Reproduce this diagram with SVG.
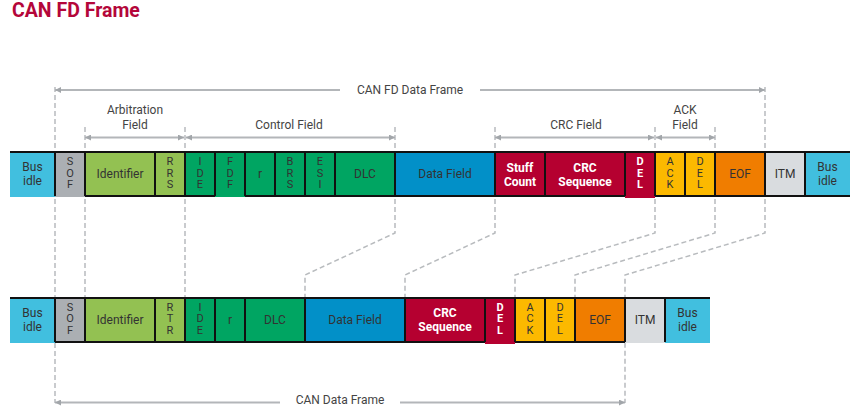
<svg xmlns="http://www.w3.org/2000/svg" width="859" height="416" viewBox="0 0 859 416">
<defs>
<style>
text{font-family:Roboto,"Liberation Sans",sans-serif;}
.t{font-size:12px;fill:#333;text-anchor:middle;}
.v{font-size:11px;fill:#333;text-anchor:middle;}
.w{font-size:12px;fill:#fff;font-weight:bold;text-anchor:middle;}
.wv{font-size:11px;fill:#fff;font-weight:bold;text-anchor:middle;}
.lbl{font-size:12px;fill:#444;text-anchor:middle;}
.title{font-size:19.5px;font-weight:bold;fill:#B4063A;}
.bus{fill:#41BFDF}.sof{fill:#ABAFB3}.lg{fill:#93C152}.g{fill:#00A562}.blue{fill:#0290C8}
.red{fill:#B50030}.yel{fill:#FCB900}.org{fill:#F07D00}.itm{fill:#D9DCDF}
.dash{fill:none;stroke:#B8BBBE;stroke-width:1.5;stroke-dasharray:5 3;}
.br{fill:none;stroke:#B3B6B9;stroke-width:2;}
.bd{fill:none;stroke:#111;stroke-width:2;}
</style>
<marker id="ah" viewBox="0 0 6 6" refX="6" refY="3" markerWidth="6" markerHeight="6" markerUnits="userSpaceOnUse" orient="auto-start-reverse">
<path d="M0,0 L6,3 L0,6 z" fill="#A2A6AA"/>
</marker>
</defs>
<rect width="859" height="416" fill="#fff"/>
<text class="title" x="12" y="17">CAN FD Frame</text>

<g id="connectors">
<path class="dash" d="M55,87 V403"/>
<path class="dash" d="M85,127 V298"/>
<path class="dash" d="M185,127 V298"/>
<path class="dash" d="M395,127 V233 L305,275 V298"/>
<path class="dash" d="M495,127 V233 L405,275 V298"/>
<path class="dash" d="M655,127 V233 L515,275 V298"/>
<path class="dash" d="M715,127 V233 L575,275 V298"/>
<path class="dash" d="M765,87 V233 L625,275 V403"/>
<line class="br" x1="55" y1="90" x2="340" y2="90" marker-start="url(#ah)"/>
<line class="br" x1="480" y1="90" x2="765" y2="90" marker-end="url(#ah)"/>
<text class="lbl" x="410" y="94">CAN FD Data Frame</text>
<line class="br" x1="85" y1="137.5" x2="184" y2="137.5" marker-start="url(#ah)" marker-end="url(#ah)"/>
<text class="lbl" x="135" y="114">Arbitration</text>
<text class="lbl" x="135" y="129">Field</text>
<line class="br" x1="186" y1="137.5" x2="395" y2="137.5" marker-start="url(#ah)" marker-end="url(#ah)"/>
<text class="lbl" x="289" y="129">Control Field</text>
<line class="br" x1="495" y1="137.5" x2="654" y2="137.5" marker-start="url(#ah)" marker-end="url(#ah)"/>
<text class="lbl" x="576" y="129">CRC Field</text>
<line class="br" x1="656" y1="137.5" x2="715" y2="137.5" marker-start="url(#ah)" marker-end="url(#ah)"/>
<text class="lbl" x="685" y="114">ACK</text>
<text class="lbl" x="685" y="129">Field</text>
<line class="br" x1="55" y1="402.5" x2="280" y2="402.5" marker-start="url(#ah)"/>
<line class="br" x1="400" y1="402.5" x2="625" y2="402.5" marker-end="url(#ah)"/>
<text class="lbl" x="340" y="404">CAN Data Frame</text>
</g>

<g id="fd-busidle-l"><rect class="bus" x="10" y="152" width="45" height="45"/><text class="t" x="32.5" y="171">Bus</text><text class="t" x="32.5" y="184.5">idle</text></g>
<g id="fd-sof"><rect class="sof" x="55" y="152" width="30" height="45"/><text class="v" x="70" y="165">S</text><text class="v" x="70" y="176.5">O</text><text class="v" x="70" y="188">F</text></g>
<g id="fd-identifier"><rect class="lg" x="85" y="152" width="70" height="44"/><text class="t" x="120" y="178.3">Identifier</text></g>
<g id="fd-rrs"><rect class="lg" x="155" y="152" width="30" height="44"/><text class="v" x="170" y="165">R</text><text class="v" x="170" y="176.5">R</text><text class="v" x="170" y="188">S</text></g>
<g id="fd-ide"><rect class="g" x="185" y="152" width="30" height="44"/><text class="v" x="200" y="165">I</text><text class="v" x="200" y="176.5">D</text><text class="v" x="200" y="188">E</text></g>
<g id="fd-fdf"><rect class="g" x="215" y="152" width="30" height="45"/><text class="v" x="230" y="165">F</text><text class="v" x="230" y="176.5">D</text><text class="v" x="230" y="188">F</text></g>
<g id="fd-r"><rect class="g" x="245" y="152" width="30" height="44"/><text class="t" x="260" y="178.3">r</text></g>
<g id="fd-brs"><rect class="g" x="275" y="152" width="30" height="44"/><text class="v" x="290" y="165">B</text><text class="v" x="290" y="176.5">R</text><text class="v" x="290" y="188">S</text></g>
<g id="fd-esi"><rect class="g" x="305" y="152" width="30" height="44"/><text class="v" x="320" y="165">E</text><text class="v" x="320" y="176.5">S</text><text class="v" x="320" y="188">I</text></g>
<g id="fd-dlc"><rect class="g" x="335" y="152" width="60" height="44"/><text class="t" x="365" y="178.3">DLC</text></g>
<g id="fd-data"><rect class="blue" x="395" y="152" width="100" height="44"/><text class="t" x="445" y="178.3">Data Field</text></g>
<g id="fd-stuff"><rect class="red" x="495" y="152" width="50" height="44"/><text class="w" x="520" y="171.5">Stuff</text><text class="w" x="520" y="185.5">Count</text></g>
<g id="fd-crc"><rect class="red" x="545" y="152" width="80" height="44"/><text class="w" x="585" y="171.5">CRC</text><text class="w" x="585" y="185.5">Sequence</text></g>
<g id="fd-crcdel"><rect class="red" x="625" y="152" width="30" height="46"/><text class="wv" x="640" y="165">D</text><text class="wv" x="640" y="176.5">E</text><text class="wv" x="640" y="188">L</text></g>
<g id="fd-ack"><rect class="yel" x="655" y="152" width="30" height="44"/><text class="v" x="670" y="165">A</text><text class="v" x="670" y="176.5">C</text><text class="v" x="670" y="188">K</text></g>
<g id="fd-ackdel"><rect class="yel" x="685" y="152" width="30" height="44"/><text class="v" x="700" y="165">D</text><text class="v" x="700" y="176.5">E</text><text class="v" x="700" y="188">L</text></g>
<g id="fd-eof"><rect class="org" x="715" y="152" width="50" height="44"/><text class="t" x="740" y="178.3">EOF</text></g>
<g id="fd-itm"><rect class="itm" x="765" y="152" width="40" height="44"/><text class="t" x="785" y="178.3">ITM</text></g>
<g id="fd-busidle-r"><rect class="bus" x="805" y="152" width="45" height="44"/><text class="t" x="827.5" y="171">Bus</text><text class="t" x="827.5" y="184.5">idle</text></g>
<g id="fd-borders"><path class="bd" d="M10,152 H850 M85,196 H215 M245,196 H625 M655,196 H850 M55,152 V196 M85,152 V196 M155,152 V196 M185,152 V196 M215,152 V196 M245,152 V196 M275,152 V196 M305,152 V196 M335,152 V196 M395,152 V196 M495,152 V196 M545,152 V196 M625,152 V196 M655,152 V196 M685,152 V196 M715,152 V196 M765,152 V196 M805,152 V196"/></g>

<g id="can-busidle-l"><rect class="bus" x="10" y="298" width="45" height="45"/><text class="t" x="32.5" y="316.5">Bus</text><text class="t" x="32.5" y="330.5">idle</text></g>
<g id="can-sof"><rect class="sof" x="55" y="298" width="30" height="44"/><text class="v" x="70" y="310.7">S</text><text class="v" x="70" y="322.3">O</text><text class="v" x="70" y="334">F</text></g>
<g id="can-identifier"><rect class="lg" x="85" y="298" width="70" height="44"/><text class="t" x="120" y="323.5">Identifier</text></g>
<g id="can-rtr"><rect class="lg" x="155" y="298" width="30" height="44"/><text class="v" x="170" y="310.7">R</text><text class="v" x="170" y="322.3">T</text><text class="v" x="170" y="334">R</text></g>
<g id="can-ide"><rect class="g" x="185" y="298" width="30" height="44"/><text class="v" x="200" y="310.7">I</text><text class="v" x="200" y="322.3">D</text><text class="v" x="200" y="334">E</text></g>
<g id="can-r"><rect class="g" x="215" y="298" width="30" height="44"/><text class="t" x="230" y="323.5">r</text></g>
<g id="can-dlc"><rect class="g" x="245" y="298" width="60" height="44"/><text class="t" x="275" y="323.5">DLC</text></g>
<g id="can-data"><rect class="blue" x="305" y="298" width="100" height="44"/><text class="t" x="355" y="323.5">Data Field</text></g>
<g id="can-crc"><rect class="red" x="405" y="298" width="80" height="44"/><text class="w" x="445" y="316.5">CRC</text><text class="w" x="445" y="330.5">Sequence</text></g>
<g id="can-crcdel"><rect class="red" x="485" y="298" width="30" height="46"/><text class="wv" x="500" y="310.7">D</text><text class="wv" x="500" y="322.3">E</text><text class="wv" x="500" y="334">L</text></g>
<g id="can-ack"><rect class="yel" x="515" y="298" width="30" height="44"/><text class="v" x="530" y="310.7">A</text><text class="v" x="530" y="322.3">C</text><text class="v" x="530" y="334">K</text></g>
<g id="can-ackdel"><rect class="yel" x="545" y="298" width="30" height="44"/><text class="v" x="560" y="310.7">D</text><text class="v" x="560" y="322.3">E</text><text class="v" x="560" y="334">L</text></g>
<g id="can-eof"><rect class="org" x="575" y="298" width="50" height="44"/><text class="t" x="600" y="323.5">EOF</text></g>
<g id="can-itm"><rect class="itm" x="625" y="298" width="40" height="45"/><text class="t" x="645" y="323.5">ITM</text></g>
<g id="can-busidle-r"><rect class="bus" x="665" y="298" width="45" height="45"/><text class="t" x="687.5" y="316.5">Bus</text><text class="t" x="687.5" y="330.5">idle</text></g>
<g id="can-borders"><path class="bd" d="M10,298 H710 M55,342 H485 M515,342 H625 M55,298 V342 M85,298 V342 M155,298 V342 M185,298 V342 M215,298 V342 M245,298 V342 M305,298 V342 M405,298 V342 M485,298 V342 M515,298 V342 M545,298 V342 M575,298 V342 M625,298 V342 M665,298 V342"/></g>
</svg>
